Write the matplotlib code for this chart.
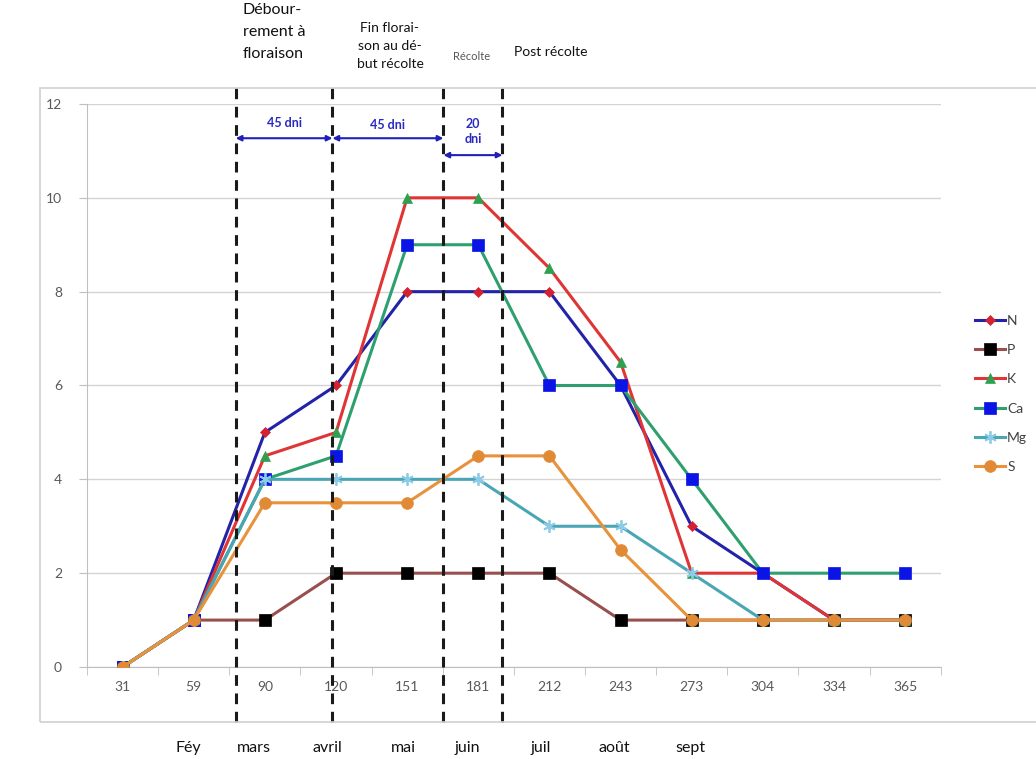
import matplotlib.pyplot as plt
from matplotlib.patches import Rectangle
from matplotlib.transforms import blended_transform_factory
import numpy as np

plt.rcParams['font.family'] = ['Lato', 'DejaVu Sans']

days = ["31", "59", "90", "120", "151", "181", "212", "243", "273", "304", "334", "365"]
N = [0, 1, 5, 6, 8, 8, 8, 6, 3, 2, 1, 1]
P = [0, 1, 1, 2, 2, 2, 2, 1, 1, 1, 1, 1]
K = [0, 1, 4.5, 5, 10, 10, 8.5, 6.5, 2, 2, 1, 1]
Ca = [0, 1, 4, 4.5, 9, 9, 6, 6, 4, 2, 2, 2]
Mg = [0, 1, 4, 4, 4, 4, 3, 3, 2, 1, 1, 1]
S = [0, 1, 3.5, 3.5, 3.5, 4.5, 4.5, 2.5, 1, 1, 1, 1]

months = ["Féy", "mars", "avril", "mai", "juin", "juil", "août", "sept"]
month_pos = [0.93, 1.85, 2.88, 3.95, 4.85, 5.88, 6.91, 7.98]

# phase boundaries (in category units) and their labels
phase_bounds = [1.59, 2.95, 4.51, 5.34]
durations = ["45 dni", "45 dni", "20\ndni"]

# name, values, line colour, marker, marker colour, marker size
series = [
    ("N", N, "#2323a8", "D", "#d42030", 5.5),
    ("P", P, "#9a4f4f", "s", "#000000", 8),
    ("K", K, "#e03535", "^", "#2fa050", 7.5),
    ("Ca", Ca, "#2ea070", "s", "#0a14e6", 9),
    ("Mg", Mg, "#4aa5b5", (6, 2, 0), "#8ccbe6", 9),
    ("S", S, "#e8923c", "o", "#e08a35", 8.5),
]

fig = plt.figure(figsize=(10.36, 7.59), dpi=100)
ax = fig.add_axes([0.084, 0.1212, 0.824, 0.7418])

x = np.arange(len(days))
for name, vals, lc, mk, mc, ms in series:
    ax.plot(x, vals, color=lc, lw=2.2, marker=mk, markersize=ms,
            markerfacecolor=mc, markeredgecolor=mc,
            markeredgewidth=1.3 if name == "Mg" else 0.5, label=name, zorder=3)

ax.set_xlim(-0.5, len(days) - 0.5)
ax.set_ylim(0, 12)
ax.set_yticks(range(0, 13, 2))
ax.set_xticks(x)
ax.set_xticklabels(days)
ax.set_xticks(np.arange(-0.5, len(days), 1), minor=True)
ax.tick_params(axis="x", which="major", length=0, pad=10, labelsize=10, labelcolor="#595959")
ax.tick_params(axis="x", which="minor", length=6, color="#bfbfbf", direction="out")
ax.tick_params(axis="y", length=6, color="#bfbfbf", labelsize=10, labelcolor="#595959", pad=12)
ax.grid(axis="y", color="#d4d4d4", lw=1)
ax.set_axisbelow(True)
for sp in ["top", "right"]:
    ax.spines[sp].set_visible(False)
for sp in ["left", "bottom"]:
    ax.spines[sp].set_color("#bfbfbf")

leg = ax.legend(loc="center left", bbox_to_anchor=(1.025, 0.485), frameon=False,
                handlelength=2.2, handletextpad=0.15, labelspacing=1.25, fontsize=10)
for t in leg.get_texts():
    t.set_color("#404040")

# outer chart frame
fig.patches.append(Rectangle((0.0386, 0.0487), 1.0, 0.835, transform=fig.transFigure,
                             fill=False, edgecolor="#cfcfcf", lw=1.2))

# dashed phase lines spanning the chart frame
tr = blended_transform_factory(ax.transData, fig.transFigure)
for xb in phase_bounds:
    ax.plot([xb, xb], [0.0487, 0.884], transform=tr, color="#1a1a1a", lw=2.2,
            ls=(0, (3.5, 2.5)), clip_on=False, zorder=4)

# duration arrows
arrow_y = [11.27, 11.27, 10.91]
text_y = [11.6, 11.55, 11.42]
for i, lab in enumerate(durations):
    a, b = phase_bounds[i], phase_bounds[i + 1]
    ax.annotate("", xy=(b, arrow_y[i]), xytext=(a, arrow_y[i]),
                arrowprops=dict(arrowstyle="<|-|>", color="#2020b8", lw=1.5,
                                mutation_scale=8, shrinkA=0, shrinkB=0), zorder=5)
    ax.text((a + b) / 2, text_y[i], lab, ha="center", va="center", fontsize=9,
            fontweight="bold", color="#2a2ac0", linespacing=1.3)

# phase titles above the chart
fig.text(243 / 1036, 1 - 3 / 759, "Débour-\nrement à\nfloraison", ha="left", va="top",
         fontsize=11.5, linespacing=1.75, color="#111111")
fig.text(390 / 1036, 1 - 22 / 759, "Fin florai-\nson au dé-\nbut récolte", ha="center",
         va="top", fontsize=10, linespacing=1.6, color="#111111")
fig.text(472 / 1036, 1 - 56 / 759, "Récolte", ha="center", va="center", fontsize=8,
         color="#555555")
fig.text(551 / 1036, 1 - 52 / 759, "Post récolte", ha="center", va="center", fontsize=10,
         color="#111111")

# month names under the frame
for m, p in zip(months, month_pos):
    ax.text(p, 1 - 748 / 759, m, transform=tr, ha="center", va="center", fontsize=11.5,
            color="#111111")

fig.savefig("out.png", dpi=100)
